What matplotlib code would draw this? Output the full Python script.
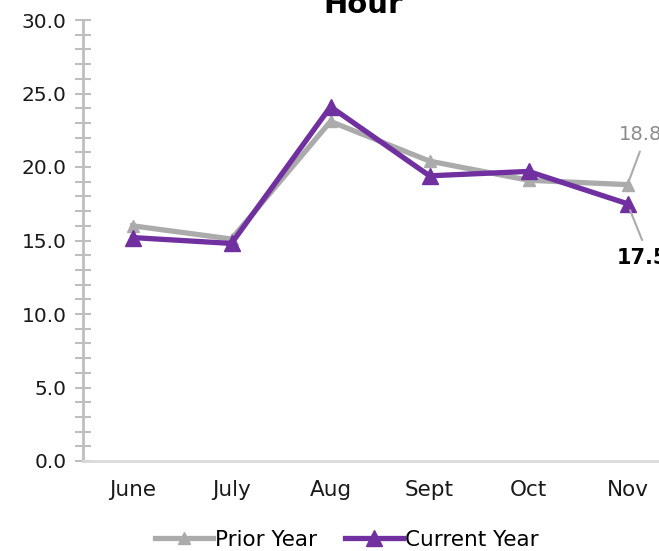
import matplotlib
matplotlib.use('Agg')
import matplotlib.pyplot as plt
from matplotlib.ticker import MultipleLocator, FormatStrFormatter

# Chart data
months = ["June", "July", "Aug", "Sept", "Oct", "Nov"]
prior_year = [16.0, 15.1, 23.1, 20.4, 19.1, 18.8]
current_year = [15.2, 14.8, 24.1, 19.4, 19.7, 17.5]

GREY = '#ABABAB'
PURPLE = '#7030A0'
AXIS = '#BFBFBF'

plt.rcParams['font.family'] = ['DejaVu Sans']

W, H = 659, 551
fig = plt.figure(figsize=(W / 100, H / 100), dpi=100)
# axis runs past the right edge like the reference crop
ax = fig.add_axes([83 / W, (H - 461) / H, (677 - 83) / W, (461 - 20) / H])

x = list(range(len(months)))
ax.plot(x, prior_year, color=GREY, lw=3.8, marker='^', ms=9,
        label='Prior Year', solid_joinstyle='miter', zorder=2)
ax.plot(x, current_year, color=PURPLE, lw=3.8, marker='^', ms=12,
        label='Current Year', solid_joinstyle='miter', zorder=3)

ax.set_xlim(-0.5, len(months) - 0.5)
ax.set_ylim(0, 30)
ax.set_xticks(x)
ax.set_xticklabels(months, fontsize=15.5, color='#1a1a1a')
ax.yaxis.set_major_locator(MultipleLocator(5))
ax.yaxis.set_minor_locator(MultipleLocator(1))
ax.yaxis.set_major_formatter(FormatStrFormatter('%.1f'))
ax.tick_params(axis='y', which='both', direction='inout', length=12,
               width=1.5, color=AXIS, labelsize=14.5, pad=6,
               labelcolor='#1a1a1a')
ax.tick_params(axis='x', length=0, pad=14)

for s in ['top', 'right']:
    ax.spines[s].set_visible(False)
for s in ['left', 'bottom']:
    ax.spines[s].set_color(AXIS)
    ax.spines[s].set_linewidth(2)
ax.spines['bottom'].set_color('#D9D9D9')

# end-point labels with leader lines
ax.annotate(f"{prior_year[-1]:.1f}", xy=(x[-1], prior_year[-1]),
            xytext=(619, H - 134), textcoords='figure pixels',
            ha='left', va='center', fontsize=14, color='#8C8C8C',
            annotation_clip=False,
            arrowprops=dict(arrowstyle='-', color=GREY, lw=1.5,
                            shrinkA=4, shrinkB=3, relpos=(0.55, 0)))
ax.annotate(f"{current_year[-1]:.1f}", xy=(x[-1], current_year[-1]),
            xytext=(617, H - 258), textcoords='figure pixels',
            ha='left', va='center', fontsize=15, fontweight='bold',
            color='black', annotation_clip=False,
            arrowprops=dict(arrowstyle='-', color=GREY, lw=1.5,
                            shrinkA=4, shrinkB=5, relpos=(0.55, 1)))

fig.text(363 / W, 1 - 13 / H, "Hour", ha='center', va='baseline',
         fontsize=21, fontweight='bold')

fig.legend(loc='center', bbox_to_anchor=(347 / W, 1 - 540 / H), ncol=2,
           frameon=False, fontsize=15.5, handlelength=2.7, handletextpad=0.1,
           columnspacing=1.3)

fig.savefig('out.png', dpi=100)
